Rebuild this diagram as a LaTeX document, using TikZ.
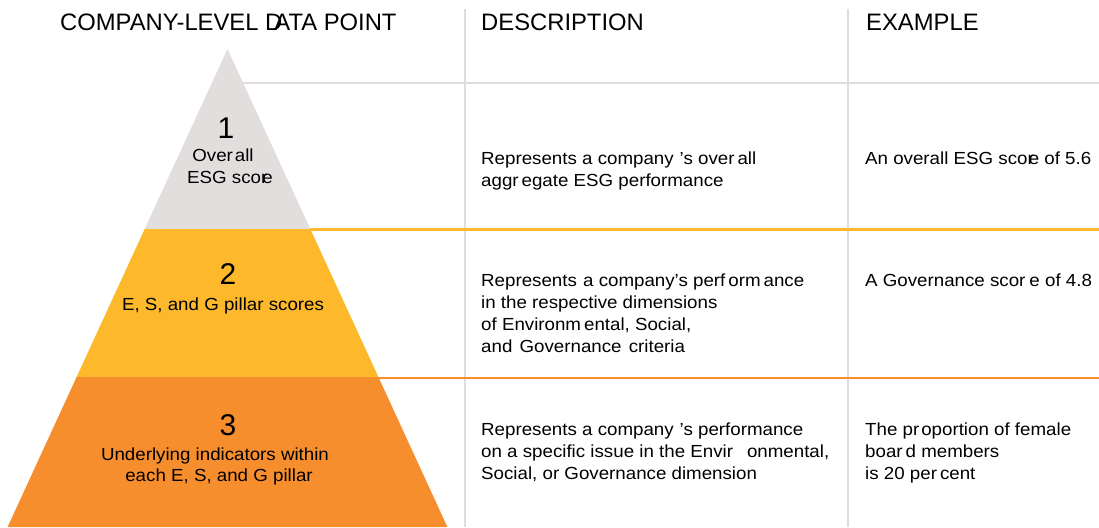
\documentclass[tikz,border=0pt]{standalone}
\usepackage{fontspec}
\setmainfont{Liberation Sans}
\newfontfamily\bodyfont{Liberation Sans}[FakeStretch=1.07]
\definecolor{pgray}{HTML}{E1DEDD}
\definecolor{pyel}{HTML}{FDB92B}
\definecolor{porg}{HTML}{F78E2E}
\definecolor{rulegray}{HTML}{E0DCDC}
\tikzset{
  head/.style={anchor=base west, inner sep=0pt, font=\fontsize{23.8}{28}\selectfont},
  body/.style={anchor=base west, inner sep=0pt, align=left, font=\bodyfont\fontsize{17.5}{22}\selectfont},
  digit/.style={anchor=base, inner sep=0pt, font=\fontsize{30}{34}\selectfont},
  plabel/.style={anchor=base, inner sep=0pt, font=\bodyfont\fontsize{17.5}{22}\selectfont},
  hrule/.style={line width=2.5pt},
  vrule/.style={rulegray, line width=2.5pt}
}
\begin{document}
\begin{tikzpicture}[x=1pt,y=-1pt]
\useasboundingbox (0,0) rectangle (1099,527);
\fill[white] (0,0) rectangle (1099,527);
% pyramid corners
\coordinate (apex) at (227.5,49);
\coordinate (l1) at (144.7,229); \coordinate (r1) at (310.3,229);
\coordinate (l2) at (76.6,377);  \coordinate (r2) at (378.4,377);
\coordinate (l3) at (7.6,527);   \coordinate (r3) at (447.4,527);
% rule end points
\coordinate (g0) at (241,83);  \coordinate (g1) at (1099,83);
\coordinate (y0) at (309,229.5); \coordinate (y1) at (1099,229.5);
\coordinate (o0) at (377,378); \coordinate (o1) at (1099,378);
\coordinate (va0) at (465,9);  \coordinate (va1) at (465,527);
\coordinate (vb0) at (848,9);  \coordinate (vb1) at (848,527);
% vertical rules
\draw[vrule] (va0) -- (va1);
\draw[vrule] (vb0) -- (vb1);
% horizontal rules
\draw[hrule, rulegray] (g0) -- (g1);
\draw[hrule, pyel] (y0) -- (y1);
\draw[hrule, porg] (o0) -- (o1);
% pyramid bands
\fill[pgray] (apex) -- (r1) -- (l1) -- cycle;
\fill[pyel] (l1) -- (r1) -- (r2) -- (l2) -- cycle;
\fill[porg] (l2) -- (r2) -- (r3) -- (l3) -- cycle;
% headers
\node[head] (h1) at (60,31) {COMPANY-LEVEL D\kern-8pt ATA POINT};
\node[head] (h2) at (481,31) {DESCRIPTION};
\node[head] (h3) at (866,31) {EXAMPLE};
% pyramid labels
\node[digit] (n1) at (226,138) {1};
\node[plabel] (p1a) at (223,161) {Over\kern2pt all};
\node[plabel] (p1b) at (230,183) {ESG scor\kern-5pt e};
\node[digit] (n2) at (228,284) {2};
\node[plabel] (p2a) at (223,310) {E, S, and G pillar scores};
\node[digit] (n3) at (228,435) {3};
\node[plabel] (p3a) at (215,460) {Underlying indicators within};
\node[plabel] (p3b) at (219,481) {each E, S, and G pillar};
% descriptions (base anchor = last line)
\node[body] (d1) at (481,186) {Represents a company\kern6pt’s over\kern3pt all\\aggr\kern3pt egate ESG performance};
\node[body] (d2) at (481,352) {Represents\kern1pt\ a company’s perf\kern3pt orm\kern3pt ance\\in the respective dimensions\\of Environm\kern3pt ental, Social,\\and\kern2pt\ Governance\kern2pt\ criteria};
\node[body] (d3) at (481,479) {Represents a company\kern6pt’s performance\\on a specific issue in the Envir\kern14pt onmental,\\Social, or Governance dimension};
% examples
\node[body] (e1) at (865,164) {An overall ESG scor\kern-5pt e of 5.6};
\node[body] (e2) at (865,286) {A Governance scor\kern4pt e of 4.8};
\node[body] (e3) at (865,479) {The pr\kern2pt oportion of female\\boar\kern3pt d members\\is 20 per\kern3pt cent};
\end{tikzpicture}
\end{document}
